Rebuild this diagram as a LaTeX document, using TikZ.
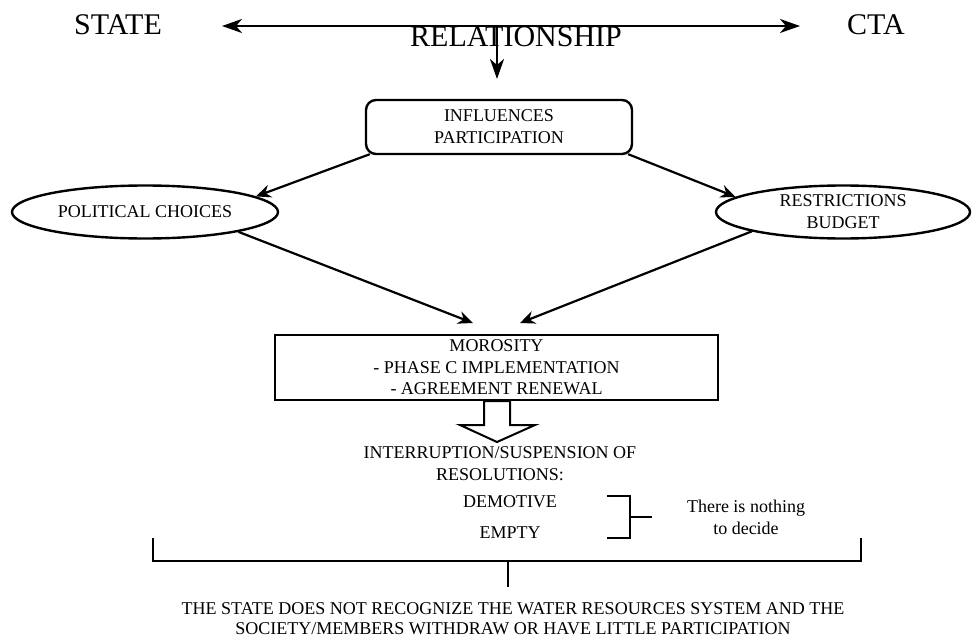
\documentclass[tikz,border=0pt]{standalone}
\usepackage{fontspec}
\setmainfont{Liberation Serif}
\usetikzlibrary{arrows.meta,shapes.geometric,calc}
\begin{document}
\begin{tikzpicture}[x=1pt,y=-1pt,
  bigtxt/.style={font=\fontsize{30}{32}\selectfont, inner sep=0pt, anchor=base},
  txt/.style={font=\fontsize{18}{22}\selectfont, align=center, inner sep=0pt},
  rbox/.style={draw, line width=2.4pt, rounded corners=10pt, minimum width=266pt, minimum height=54pt, align=center, font=\fontsize{18}{22}\selectfont},
  oval/.style={draw, ellipse, line width=2.4pt, inner sep=0pt, align=center, font=\fontsize{18}{22}\selectfont},
  sbox/.style={draw, line width=2.6pt, minimum width=443pt, minimum height=65pt, inner sep=0pt, align=center, font=\fontsize{18}{21.5}\selectfont},
  conn/.style={line width=2.2pt, -{Stealth[length=15pt,width=13pt,inset=5pt]}},
  bigconn/.style={line width=2.4pt, {Stealth[length=20pt,width=14pt,inset=6pt]}-{Stealth[length=20pt,width=14pt,inset=6pt]}},
  brk/.style={line width=2.6pt}
]
\useasboundingbox (0,0) rectangle (972,642);

% top row
\node[bigtxt] (state) at (118,35) {STATE};
\node[bigtxt] (cta) at (876,35) {CTA};
\node[bigtxt] (rel) at (516,47) {RELATIONSHIP};
\coordinate (hl) at (222,26);
\coordinate (hr) at (800,26);
\coordinate (hm) at (497,26);
\coordinate (vt) at (497,79);
\draw[bigconn] (hl) -- (hr);
\draw[line width=2.4pt, -{Stealth[length=20pt,width=14pt,inset=6pt]}] (hm) -- (vt);

% influences box
\node[rbox] (inf) at (499,127) {INFLUENCES\\PARTICIPATION};

% ellipses
\node[oval, minimum width=266pt, minimum height=53pt] (pol) at (145,212) {POLITICAL CHOICES};
\node[oval, minimum width=254pt, minimum height=53pt] (res) at (843,212) {RESTRICTIONS\\BUDGET};

\draw[conn] ($(inf.south west)+(5,-1)$) -- (pol.8);
\draw[conn] ($(inf.south east)+(-5,-1)$) -- (res.172);

% morosity box
\node[sbox] (mor) at (496.5,367.5) {MOROSITY\\- PHASE C IMPLEMENTATION\\- AGREEMENT RENEWAL};
\coordinate (mtl) at (473,323);
\coordinate (mtr) at (520,323);
\draw[conn] (pol.-12) -- (mtl);
\draw[conn] (res.192) -- (mtr);

% hollow block arrow
\draw[line width=2pt, fill=white, line join=miter]
  (484,401) -- (510,401) -- (510,425) -- (535,425) -- (497,442) -- (460,425) -- (484,425) -- cycle;

% interruption text
\node[txt] (intr) at (500,464) {INTERRUPTION/SUSPENSION OF\\RESOLUTIONS:};
\node[txt] (dem) at (510,502) {DEMOTIVE};
\node[txt] (emp) at (510,533) {EMPTY};
\node[txt] (noth) at (746,517) {There is nothing\\to decide};

% small bracket
\draw[brk, line join=miter] (607,496) -- (630,496) -- (630,538) -- (607,538);
\draw[brk] (630,517) -- (652,517);

% big bracket
\draw[brk, line join=miter] (153,538) -- (153,561) -- (861,561) -- (861,538);
\draw[brk] (508,561) -- (508,587);

% bottom text
\node[font=\fontsize{18}{20}\selectfont, align=center, inner sep=0pt] (concl) at (513,619)
  {THE STATE DOES NOT RECOGNIZE THE WATER RESOURCES SYSTEM AND THE\\SOCIETY/MEMBERS WITHDRAW OR HAVE LITTLE PARTICIPATION};
\end{tikzpicture}
\end{document}
